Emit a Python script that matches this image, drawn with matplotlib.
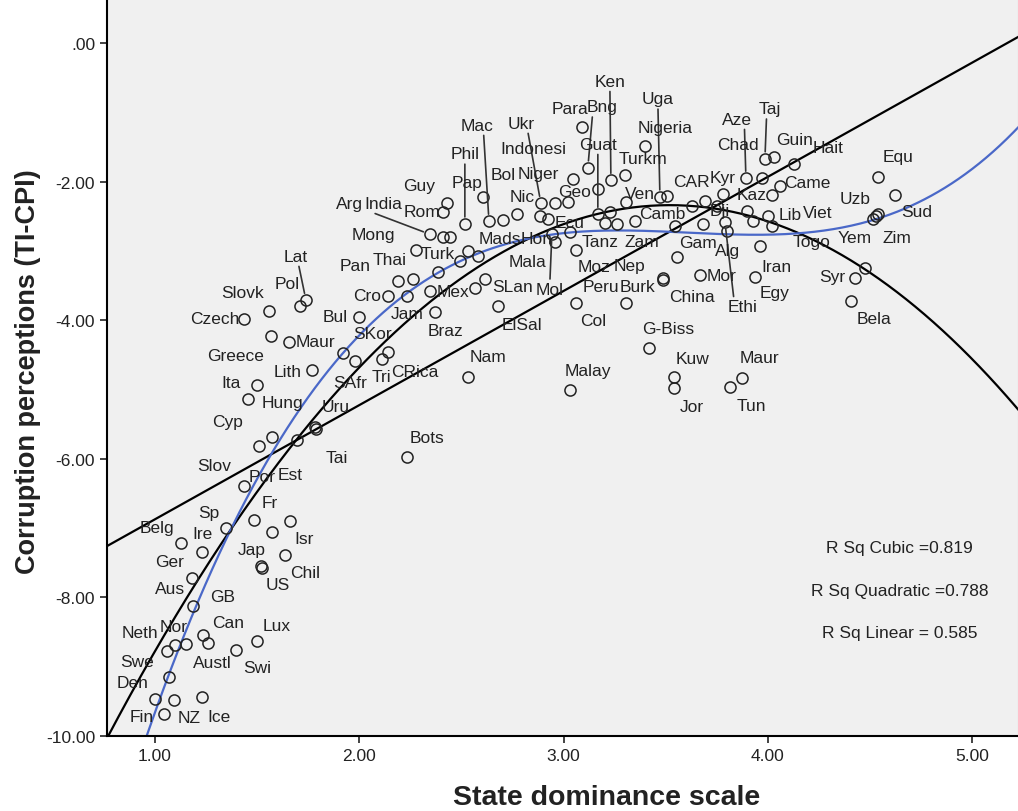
import numpy as np
import matplotlib.pyplot as plt
from matplotlib.ticker import FuncFormatter

plt.rcParams['font.family'] = ['Liberation Sans', 'DejaVu Sans']

# country codes, state dominance scale, corruption perceptions (TI-CPI)
countries = ['Fin', 'NZ', 'Ice', 'Den', 'Swe', 'Neth', 'Nor', '', 'Can', 'Austl',
             'Swi', 'Lux', 'GB', 'Aus', 'Ger', 'Belg', 'Ire', 'Sp', 'Fr', 'Isr',
             'Jap', 'Chil', 'US', 'Por', 'Slov', 'Cyp', 'Est', 'Uru', 'Tai', 'Hung',
             'Ita', 'Lith', 'Greece', 'Maur', 'Czech', 'Slovk', 'Pol', 'Lat', 'Bul', 'SKor',
             'SAfr', 'Tri', 'CRica', 'Cro', 'Jam', 'Braz', 'Mex', 'Pan', '', '',
             'Bots', 'Nam', 'ElSal', 'SLan', '', 'Thai', 'Turk', '', 'Mads', 'India',
             'Mong', 'Arg', 'Guy', 'Rom', 'Phil', 'Pap', 'Mac', '', 'Bol', 'Nic',
             'Ukr', 'Niger', '', 'Indonesi', 'Geo', 'Ecu', 'Mol', 'Hon', 'Mala', 'Moz',
             'Tanz', 'Nep', '', 'Zam', 'Para', 'Bng', 'Ken', 'Guat', 'Uga', 'Nigeria',
             'Turkm', 'Ven', 'Camb', '', 'CAR', '', 'Dji', 'Kyr', 'Aze', 'Chad',
             'Taj', 'Guin', 'Hait', 'Kaz', 'Came', '', 'Lib', 'Viet', 'Togo', 'Ethi',
             'Alg', '', 'Iran', 'Gam', 'Mor', 'Egy', 'Burk', 'China', 'Peru', 'Col',
             'G-Biss', 'Malay', 'Kuw', 'Jor', 'Maur', 'Tun', 'Equ', 'Sud', 'Uzb', 'Zim',
             'Yem', '', 'Syr', 'Bela']

state_dominance = [1.044, 1.093, 1.230, 1.000, 1.069, 1.059, 1.098, 1.152, 1.235, 1.259,
                   1.396, 1.499, 1.186, 1.181, 1.230, 1.127, 1.348, 1.485, 1.573, 1.661,
                   1.519, 1.636, 1.524, 1.436, 1.509, 1.573, 1.695, 1.783, 1.788, 1.455,
                   1.499, 1.768, 1.568, 1.656, 1.436, 1.558, 1.710, 1.739, 1.999, 1.920,
                   1.979, 2.111, 2.140, 2.140, 2.233, 2.371, 2.346, 2.189, 2.263, 2.385,
                   2.233, 2.532, 2.679, 2.615, 2.566, 2.278, 2.532, 2.493, 2.581, 2.346,
                   2.410, 2.444, 2.429, 2.410, 2.517, 2.605, 2.635, 2.703, 2.772, 2.884,
                   2.889, 2.958, 3.022, 3.046, 3.168, 2.924, 2.943, 2.958, 3.031, 3.061,
                   3.203, 3.261, 3.227, 3.349, 3.090, 3.119, 3.232, 3.168, 3.472, 3.398,
                   3.301, 3.305, 3.545, 3.506, 3.628, 3.692, 3.751, 3.780, 3.893, 3.971,
                   3.986, 4.030, 4.128, 4.020, 4.059, 3.898, 3.927, 4.000, 4.020, 3.790,
                   3.800, 3.682, 3.961, 3.555, 3.668, 3.937, 3.487, 3.487, 3.305, 3.061,
                   3.418, 3.031, 3.540, 3.540, 3.873, 3.814, 4.539, 4.622, 4.529, 4.539,
                   4.514, 4.475, 4.426, 4.407]

corruption = [-9.68, -9.48, -9.44, -9.47, -9.15, -8.77, -8.69, -8.67, -8.54, -8.66,
              -8.76, -8.63, -8.12, -7.72, -7.34, -7.22, -7.00, -6.88, -7.06, -6.90,
              -7.55, -7.39, -7.58, -6.39, -5.82, -5.69, -5.73, -5.54, -5.57, -5.14,
              -4.94, -4.72, -4.23, -4.31, -3.98, -3.87, -3.80, -3.71, -3.95, -4.47,
              -4.59, -4.56, -4.46, -3.65, -3.65, -3.88, -3.58, -3.43, -3.41, -3.30,
              -5.97, -4.82, -3.80, -3.41, -3.54, -2.99, -3.00, -3.15, -3.07, -2.76,
              -2.80, -2.80, -2.31, -2.44, -2.61, -2.22, -2.57, -2.55, -2.47, -2.50,
              -2.31, -2.31, -2.29, -1.96, -2.11, -2.54, -2.76, -2.87, -2.73, -2.99,
              -2.60, -2.61, -2.44, -2.57, -1.21, -1.80, -1.98, -2.47, -2.22, -1.49,
              -1.90, -2.29, -2.64, -2.21, -2.35, -2.28, -2.35, -2.18, -1.95, -1.95,
              -1.67, -1.65, -1.75, -2.19, -2.06, -2.42, -2.57, -2.50, -2.64, -2.58,
              -2.71, -2.61, -2.93, -3.09, -3.35, -3.38, -3.39, -3.42, -3.75, -3.75,
              -4.40, -5.01, -4.82, -4.98, -4.83, -4.96, -1.93, -2.19, -2.50, -2.47,
              -2.54, -3.25, -3.39, -3.72]

r2_names = ['Cubic', 'Quadratic', 'Linear']
r2_values = [0.819, 0.788, 0.585]

# label placement, offset of label centre from its point in pixels
label_offsets = [(-22, -3), (15, -18), (17, -19), (-22, 17), (-32, 16), (-27, 18), (-1, 19), (0, 0), (25, 12), (4, -19),
                 (21, -17), (20, 16), (30, 9), (-22, -11), (-32, -10), (-24, 16), (-24, -5), (-45, 7), (-2, 30), (14, -17),
                 (-9, 17), (20, -17), (16, -16), (18, 9), (-45, -19), (-44, 16), (-7, -34), (21, 20), (21, -28), (34, -3),
                 (-26, 3), (-24, -1), (-35, -19), (26, 0), (-29, 0), (-26, 19), (-13, 23), (-10, 44), (-24, 0), (30, 19),
                 (-5, -21), (0, -17), (27, -19), (-21, 0), (0, -18), (10, -19), (23, 0), (-43, 15), (0, 0), (0, 0),
                 (20, 19), (20, 21), (24, -18), (28, -7), (0, 0), (-26, -9), (-30, -3), (0, 0), (22, 17), (-47, 31),
                 (-70, 3), (-100, 34), (-28, 18), (-21, 1), (0, 70), (-16, 14), (-12, 96), (0, 0), (-14, 40), (-18, 20),
                 (-20, 80), (-17, 30), (0, 0), (-40, 30), (-23, -2), (22, -3), (-2, -55), (-18, 3), (-42, -29), (18, -16),
                 (-5, -18), (13, -42), (0, 0), (7, -20), (-12, 18), (14, 61), (-1, 99), (0, 70), (-2, 98), (20, 19),
                 (18, 16), (14, 8), (-13, 12), (0, 0), (0, 24), (0, 0), (3, -5), (0, 17), (-9, 59), (-24, 34),
                 (5, 50), (21, 18), (34, 17), (-20, 0), (27, 3), (0, 0), (37, 7), (50, 4), (40, -16), (18, -85),
                 (1, -20), (0, 0), (17, -20), (21, 15), (22, 0), (20, -15), (-25, -9), (29, -16), (-25, 16), (17, -18),
                 (19, 19), (18, 20), (19, 19), (18, -18), (18, 20), (22, -19), (20, 20), (22, -17), (-21, 18), (19, -23),
                 (-18, -18), (0, 0), (-23, 1), (23, -18)]

# labels joined to their point by a line: where on the label the line starts
leaders = {'Lat': (0.6, 0), 'India': (0.1, 0), 'Phil': (0.5, 0), 'Mac': (0.7, 0),
           'Ukr': (0.75, 0), 'Mol': (0.5, 1), 'Bng': (0.2, 0), 'Ken': (0.5, 0),
           'Guat': (0.5, 0), 'Uga': (0.5, 0), 'Aze': (0.75, 0), 'Taj': (0.35, 0),
           'Ethi': (0.2, 1)}

x = np.array(state_dominance)
y = np.array(corruption)

fig = plt.figure(figsize=(10.18, 8.12), dpi=100)
ax = fig.add_axes([107 / 1018, 75 / 812, 911 / 1018, 737 / 812])
ax.set_facecolor('#f0f0f0')
ax.set_xlim(0.765, 5.225)
ax.set_ylim(-10, 0.635)

xs = np.linspace(0.765, 5.225, 400)
lin = np.polyfit(x, y, 1)
quad = np.polyfit(x, y, 2)
cub = np.polyfit(x, y, 3)
ax.plot(xs, np.polyval(lin, xs), color='black', lw=1.6, zorder=2)
ax.plot(xs, np.polyval(quad, xs), color='black', lw=1.6, zorder=2)
ax.plot(xs, np.polyval(cub, xs), color='#4a68c8', lw=1.6, zorder=2)

ax.plot(x, y, 'o', mfc='none', mec='#222222', ms=8, mew=1.1, zorder=3)

for name, px, py, off in zip(countries, x, y, label_offsets):
    if not name:
        continue
    if name in leaders:
        ax.annotate(name, (px, py), xytext=off, textcoords='offset pixels',
                    ha='center', va='center', fontsize=12.5, color='#222222',
                    arrowprops=dict(arrowstyle='-', lw=1.2, color='#333333',
                                    relpos=leaders[name], shrinkA=0, shrinkB=5))
    else:
        ax.annotate(name, (px, py), xytext=off, textcoords='offset pixels',
                    ha='center', va='center', fontsize=12.5, color='#222222')

r2_y = [0.256, 0.197, 0.14]
for nm, val, ty in zip(r2_names, r2_values, r2_y):
    sep = ' = ' if nm == 'Linear' else ' ='
    ax.text(0.870, ty, f'R Sq {nm}{sep}{val:.3f}', transform=ax.transAxes,
            ha='center', va='center', fontsize=12.5, color='#222222')

ax.set_xticks([1, 2, 3, 4, 5])
ax.set_yticks([0, -2, -4, -6, -8, -10])
ax.xaxis.set_major_formatter(FuncFormatter(lambda v, p: f'{v:.2f}'))
ax.yaxis.set_major_formatter(FuncFormatter(lambda v, p: '.00' if abs(v) < 1e-9 else f'{v:.2f}'))
ax.tick_params(labelsize=12.5, length=5, width=1.2, colors='#222222')

ax.spines['top'].set_visible(False)
ax.spines['right'].set_color('#c8c8c8')
ax.spines['left'].set_linewidth(1.5)
ax.spines['bottom'].set_linewidth(1.5)

fig.text(607 / 1018, 1 - 798 / 812, 'State dominance scale', fontsize=20.5,
         fontweight='bold', ha='center', va='center', color='#222222')
fig.text(28 / 1018, 1 - 372 / 812, 'Corruption perceptions (TI-CPI)', fontsize=19.5,
         fontweight='bold', ha='center', va='center', rotation=90, color='#222222')

fig.savefig('out.png', dpi=100, facecolor='white')
